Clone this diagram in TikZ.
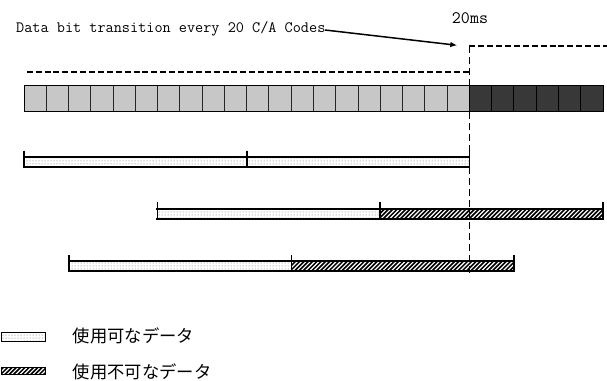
\documentclass[tikz,border=0pt]{standalone}
\usepackage{fontspec}
\usetikzlibrary{patterns,arrows.meta}
\newfontfamily\cjkfnt{Noto Sans CJK JP}
\tikzset{
  cellL/.style={fill=black!22, draw=black!85, line width=1pt},
  cellD/.style={fill=black!78, draw=black, line width=1pt},
  usable/.style={fill=white, pattern=dots, pattern color=black!60},
  hatchline/.style={white, line width=1.15pt},
  edge/.style={line width=1.9pt, line cap=rect},
  tick/.style={line width=1.6pt},
  dashA/.style={line width=1.7pt, dash pattern=on 6pt off 2.9pt},
  dashV/.style={line width=1.6pt, dash pattern=on 7pt off 4pt},
  lbl/.style={inner sep=0pt, anchor=west},
}
% hatched fill: x1 x2 top bottom count
\newcommand{\hatchfill}[5]{%
  \begin{scope}
    \clip (#1,#3) rectangle (#2,#4);
    \fill[black] (#1,#3) rectangle (#2,#4);
    \foreach \n in {0,...,#5}
      \draw[hatchline] ({#1-12+\n*4.3},#4) -- ({#1-12+\n*4.3+(#4-#3)},#3);
  \end{scope}}
\newcommand{\segframe}[5]{% x1 x2 ticktop top bottom
  \draw[edge] (#1,#4) -- (#2,#4);
  \draw[edge] (#1,#5) -- (#2,#5);
  \draw[tick] (#1,#3) -- (#1,#5);
  \draw[tick] (#2,#3) -- (#2,#5);
}
\newcommand{\okbar}[5]{%
  \fill[white] (#1,#4) rectangle (#2,#5);
  \fill[usable] (#1,#4) rectangle (#2,#5);
  \segframe{#1}{#2}{#3}{#4}{#5}}
\newcommand{\ngbar}[5]{%
  \hatchfill{#1}{#2}{#4}{#5}{58}
  \segframe{#1}{#2}{#3}{#4}{#5}}
\begin{document}
\begin{tikzpicture}[x=1pt,y=-1pt]
\useasboundingbox (0,0) rectangle (607,380);
% top bar of C/A code periods
\foreach \i in {0,...,19}
  \draw[cellL] ({24+\i*22.27},85) rectangle ++(22.27,26.7);
\foreach \i in {0,...,5}
  \draw[cellD] ({469.4+\i*22.27},85) rectangle ++(22.27,26.7);
\draw[line width=1pt] (24,85) rectangle (603,111.7);
% data bit level line
\coordinate (lowL) at (26.7,71.7);
\coordinate (lowR) at (469.4,71.7);
\coordinate (highL) at (469.4,46);
\coordinate (highR) at (607,46);
\coordinate (vbot) at (469.4,276);
\draw[dashA] (lowL) -- (lowR);
\draw[dashA] (highL) -- (highR);
% rows
\okbar{24}{246.7}{150.7}{156.7}{166.7}
\okbar{246.7}{469.4}{150.7}{156.7}{166.7}
\okbar{157.3}{380}{202}{209}{219}
\ngbar{380}{602.7}{202}{209}{219}
\okbar{68.7}{291.4}{255}{261.3}{271}
\ngbar{291.4}{514}{255}{261.3}{271}
% vertical dashed transition line
\draw[dashV] (highL) -- (vbot);
% labels
\node[lbl] (databit) at (16,28.5) {\ttfamily\fontsize{15.8}{18}\selectfont Data bit transition every 20 C/A Codes};
\node[inner sep=0pt] (ms) at (470,18) {\ttfamily\fontsize{17.5}{20}\selectfont 20ms};
\coordinate (arrowstart) at (325,30);
\coordinate (arrowtip) at (457.3,45.3);
\draw[line width=1.5pt, -{Latex[length=7pt,width=5.5pt]}] (arrowstart) -- (arrowtip);
% legend
\fill[usable] (1.7,332.7) rectangle (45.7,341.7);
\draw[line width=1.3pt] (1.7,332.7) rectangle (45.7,341.7);
\hatchfill{1.7}{45.7}{367.7}{374.7}{15}
\draw[line width=0.8pt] (1.7,367.7) rectangle (45.7,374.7);
\node[lbl] (leg1) at (72.7,335.5) {\cjkfnt\fontsize{17.3}{20}\selectfont 使用可なデータ};
\node[lbl] (leg2) at (72.7,371.7) {\cjkfnt\fontsize{17.3}{20}\selectfont 使用不可なデータ};
\end{tikzpicture}
\end{document}
